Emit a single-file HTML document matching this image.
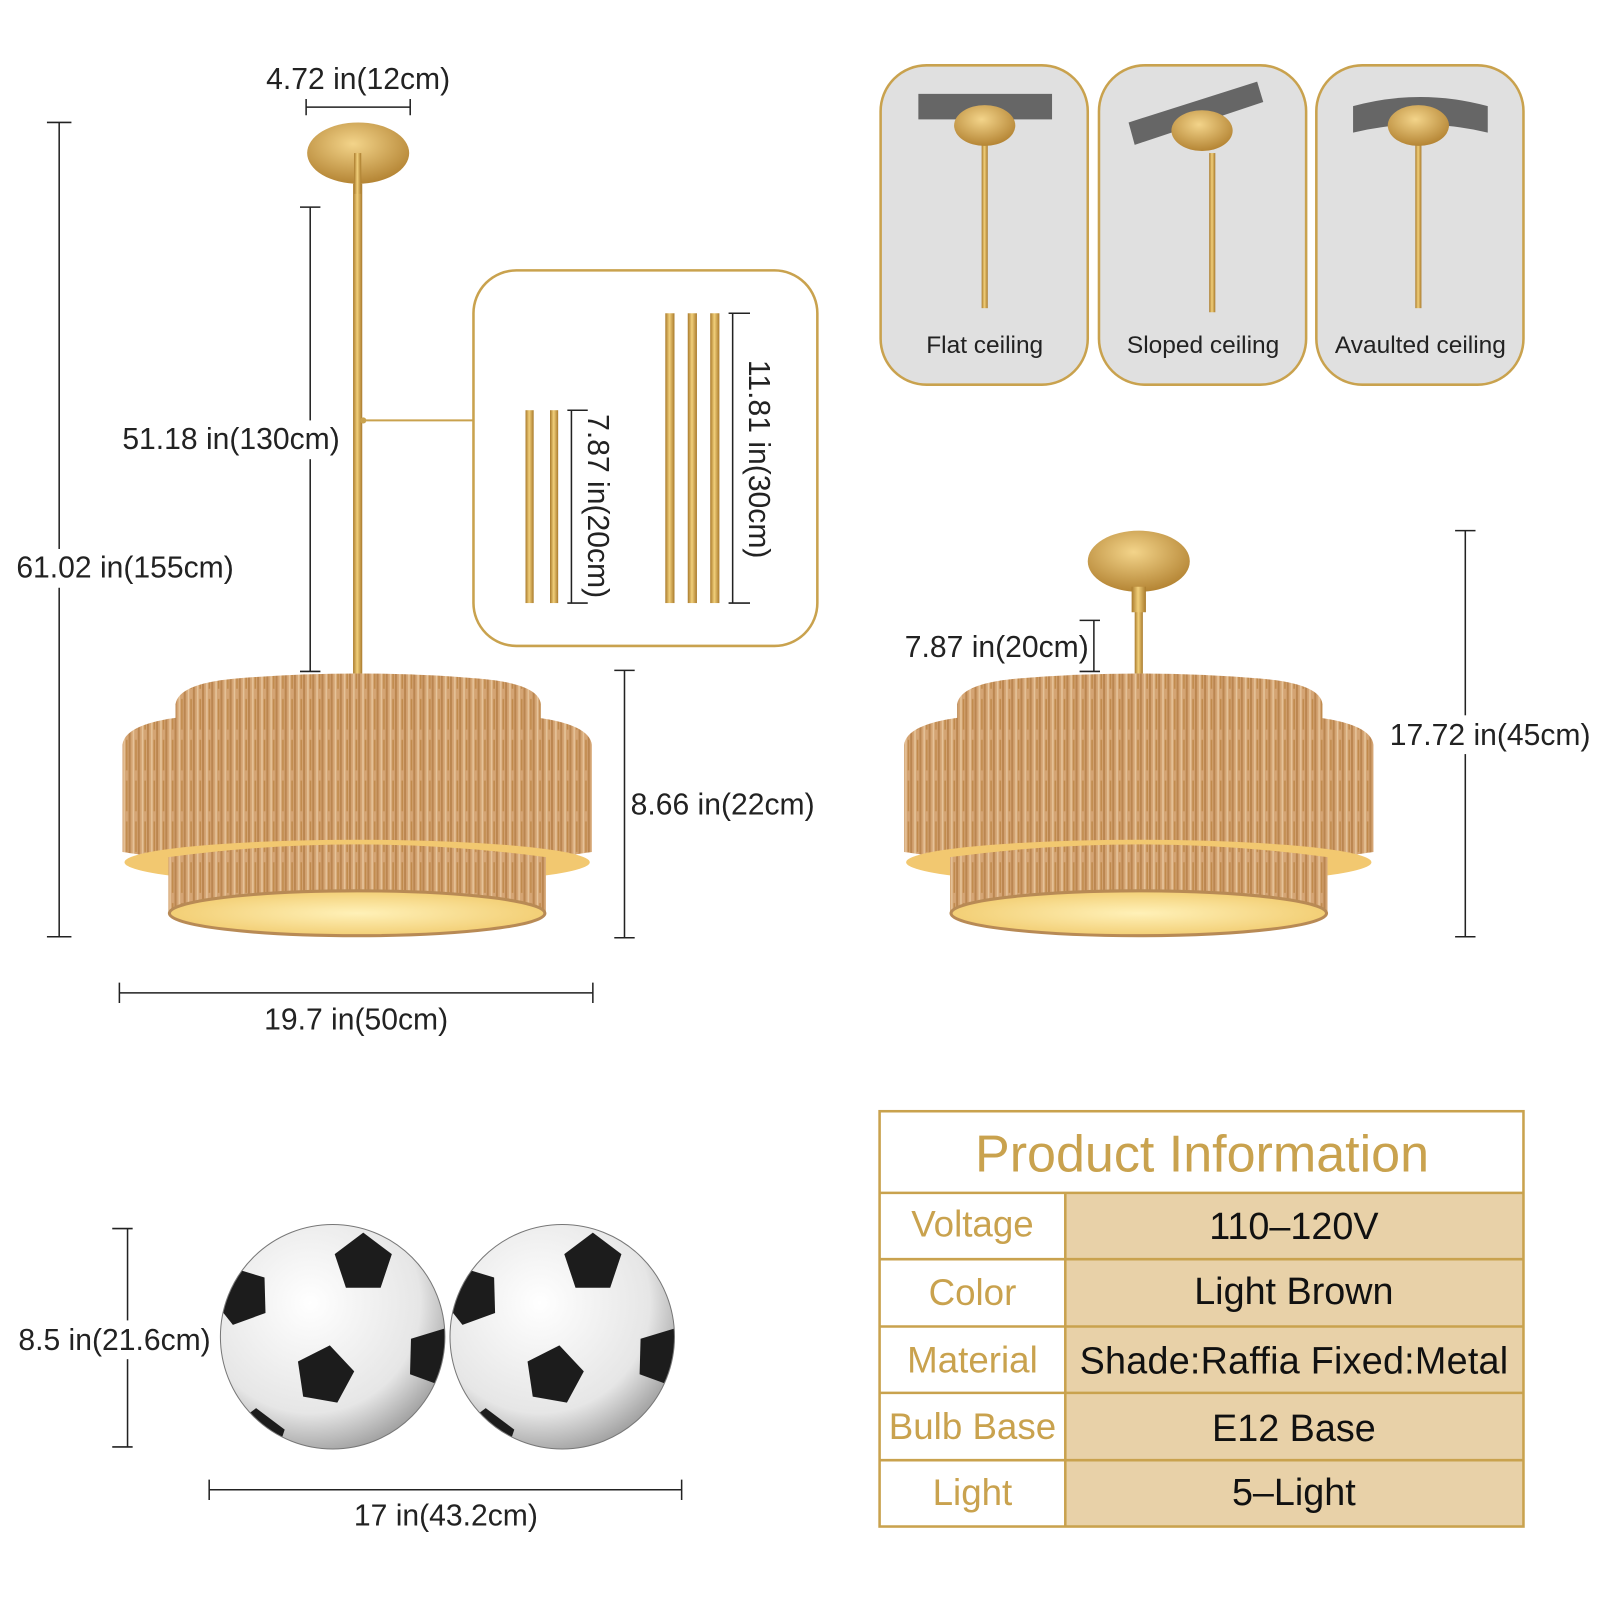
<!DOCTYPE html>
<html><head><meta charset="utf-8"><style>
html,body{margin:0;padding:0;background:#fff}
svg{display:block}
text{font-family:"Liberation Sans","DejaVu Sans",sans-serif}
</style></head><body>
<svg width="1600" height="1600" viewBox="0 0 1568 1568" xmlns="http://www.w3.org/2000/svg">
<defs>
<linearGradient id="gold" x1="0" x2="1"><stop offset="0" stop-color="#a97a2c"/><stop offset=".45" stop-color="#f1cf7a"/><stop offset="1" stop-color="#a97a2c"/></linearGradient>
<radialGradient id="can" cx=".45" cy=".35" r=".7"><stop offset="0" stop-color="#f3d48a"/><stop offset="1" stop-color="#b07f2e"/></radialGradient>
<pattern id="raf" width="9" height="40" patternUnits="userSpaceOnUse">
<rect width="9" height="40" fill="#d4a473"/>
<rect x="0" width="2" height="40" fill="#bb8650"/>
<rect x="4" width="1.5" height="40" fill="#e6c49a"/>
<rect x="6.5" y="5" width="1.5" height="30" fill="#c08a4c"/>
</pattern>
<radialGradient id="glow" cx=".5" cy=".5" r=".6"><stop offset="0" stop-color="#fff1b8"/><stop offset="1" stop-color="#f0c868"/></radialGradient>
<radialGradient id="ball" cx=".4" cy=".35" r=".7"><stop offset="0" stop-color="#ffffff"/><stop offset=".7" stop-color="#e6e6e6"/><stop offset="1" stop-color="#9a9a9a"/></radialGradient>
<g id="shade">
  <path d="M172 690 Q175 670 230 665 Q350 655 470 665 Q528 670 530 690 L530 720 L172 720Z" fill="url(#raf)"/>
  <path d="M120 730 Q122 710 175 703 Q350 690 525 703 Q578 710 580 730 L580 835 Q350 870 120 835Z" fill="url(#raf)"/>
  <ellipse cx="350" cy="845" rx="228" ry="22" fill="#f2c870"/>
  <path d="M165 840 Q350 815 535 840 L535 895 L165 895Z" fill="url(#raf)"/>
  <ellipse cx="350" cy="895" rx="184" ry="22" fill="url(#glow)" stroke="#b88a55" stroke-width="3"/>
</g>
<g id="pent"><polygon points="0,-30 28,-9 17,24 -17,24 -28,-9" fill="#1c1c1c"/></g>
<g id="soccer">
  <circle r="110" fill="url(#ball)"/>
  <clipPath id="bc"><circle r="110"/></clipPath>
  <g clip-path="url(#bc)">
   <use href="#pent" x="30" y="-72"/>
   <use href="#pent" x="-8" y="38" transform="rotate(10 -8 38)"/>
   <use href="#pent" x="-90" y="-40" transform="rotate(-20 -90 -40)"/>
   <use href="#pent" x="100" y="20" transform="rotate(20 100 20)"/>
   <use href="#pent" x="-75" y="100"/>
   <use href="#pent" x="80" y="110"/>
  </g>
  <circle r="110" fill="none" stroke="#777" stroke-width="1"/>
</g>
</defs>

<!-- Left lamp -->
<rect x="346" y="180" width="9" height="480" fill="url(#gold)"/>
<ellipse cx="351" cy="150" rx="50" ry="30" fill="url(#can)"/>
<rect x="347" y="150" width="7" height="40" fill="url(#gold)"/>
<use href="#shade"/>

<g stroke="#222" stroke-width="1.5" fill="none">
 <path d="M58 120V918M46 120H70M46 918H70"/>
 <path d="M304 203V658M294 203H314M294 658H314"/>
 <path d="M300 105H402M300 97V113M402 97V113"/>
 <path d="M612 657V919M602 657H622M602 919H622"/>
 <path d="M117 973H581M117 963V983M581 963V983"/>
</g>
<rect x="10" y="538" width="225" height="38" fill="#fff"/>
<rect x="120" y="412" width="220" height="38" fill="#fff"/>
<g font-size="29.5" fill="#222">
 <text x="16" y="566">61.02 in(155cm)</text>
 <text x="333" y="440" text-anchor="end">51.18 in(130cm)</text>
 <text x="351" y="87" text-anchor="middle">4.72 in(12cm)</text>
 <text x="618" y="798">8.66 in(22cm)</text>
 <text x="349" y="1009" text-anchor="middle">19.7 in(50cm)</text>
</g>

<!-- Inset -->
<line x1="356" y1="412" x2="464" y2="412" stroke="#c9a24e" stroke-width="2"/>
<circle cx="356" cy="412" r="3" fill="#c9a24e"/>
<rect x="464" y="265" width="337" height="368" rx="42" fill="#fff" stroke="#c9a24e" stroke-width="2.5"/>
<g fill="url(#gold)">
 <rect x="515" y="402" width="8" height="189"/><rect x="539" y="402" width="8" height="189"/>
 <rect x="652" y="307" width="9" height="284"/><rect x="674" y="307" width="9" height="284"/><rect x="696" y="307" width="9" height="284"/>
</g>
<g stroke="#222" stroke-width="1.5" fill="none">
 <path d="M560 402V591M556 402H576M556 591H576"/>
 <path d="M718 307V591M714 307H735M714 591H735"/>
</g>
<g font-size="29.5" fill="#222">
 <text transform="translate(576,496) rotate(90)" text-anchor="middle">7.87 in(20cm)</text>
 <text transform="translate(734,450) rotate(90)" text-anchor="middle">11.81 in(30cm)</text>
</g>

<!-- Ceiling cards -->
<g stroke="#c9a24e" stroke-width="2.5" fill="#e0e0e0">
 <rect x="863" y="64" width="203" height="313" rx="45"/>
 <rect x="1077" y="64" width="203" height="313" rx="45"/>
 <rect x="1290" y="64" width="203" height="313" rx="45"/>
</g>
<rect x="900" y="92" width="131" height="25" fill="#666"/>
<path d="M1106 120 L1232 80 L1238 100 L1112 142Z" fill="#666"/>
<path d="M1326 104 Q1392 86 1458 104 L1458 130 Q1392 114 1326 130Z" fill="#666"/>
<g fill="url(#gold)">
 <rect x="962" y="140" width="6" height="162"/>
 <rect x="1185" y="150" width="6" height="156"/>
 <rect x="1387" y="140" width="6" height="162"/>
</g>
<ellipse cx="965" cy="123" rx="30" ry="20" fill="url(#can)"/>
<ellipse cx="1178" cy="128" rx="30" ry="20" fill="url(#can)"/>
<ellipse cx="1390" cy="123" rx="30" ry="20" fill="url(#can)"/>
<g font-size="24" fill="#222" text-anchor="middle">
 <text x="965" y="346">Flat ceiling</text>
 <text x="1179" y="346">Sloped ceiling</text>
 <text x="1392" y="346">Avaulted ceiling</text>
</g>

<!-- Right lamp -->
<rect x="1112" y="590" width="8" height="70" fill="url(#gold)"/>
<ellipse cx="1116" cy="550" rx="50" ry="30" fill="url(#can)"/>
<rect x="1109" y="575" width="14" height="25" fill="url(#gold)"/>
<use href="#shade" x="766"/>
<g stroke="#222" stroke-width="1.5" fill="none">
 <path d="M1072 608V658M1058 608H1078M1058 658H1078"/>
 <path d="M1436 520V918M1426 520H1446M1426 918H1446"/>
</g>
<rect x="1356" y="701" width="210" height="38" fill="#fff"/>
<g font-size="29.5" fill="#222">
 <text x="1067" y="644" text-anchor="end">7.87 in(20cm)</text>
 <text x="1362" y="730">17.72 in(45cm)</text>
</g>

<!-- Balls -->
<use href="#soccer" x="326" y="1310"/>
<use href="#soccer" x="551" y="1310"/>
<g stroke="#222" stroke-width="1.5" fill="none">
 <path d="M125 1204V1418M110 1204H130M110 1418H130"/>
 <path d="M205 1460H668M205 1450V1470M668 1450V1470"/>
</g>
<rect x="14" y="1294" width="198" height="38" fill="#fff"/>
<g font-size="29.5" fill="#222">
 <text x="18" y="1323">8.5 in(21.6cm)</text>
 <text x="437" y="1495" text-anchor="middle">17 in(43.2cm)</text>
</g>

<!-- Table -->
<rect x="1044" y="1169" width="449" height="327" fill="#e8d1a8"/>
<g stroke="#c9a24e" stroke-width="2.5" fill="none">
 <rect x="862" y="1089" width="631" height="407"/>
 <path d="M862 1169H1493M862 1234H1493M862 1300H1493M862 1365H1493M862 1431H1493M1044 1169V1496"/>
</g>
<text x="1178" y="1148" font-size="51" fill="#c9a24e" text-anchor="middle">Product Information</text>
<g font-size="36" fill="#c9a24e" text-anchor="middle">
 <text x="953" y="1212">Voltage</text>
 <text x="953" y="1279">Color</text>
 <text x="953" y="1345">Material</text>
 <text x="953" y="1410">Bulb Base</text>
 <text x="953" y="1475">Light</text>
</g>
<g font-size="37" fill="#111" text-anchor="middle">
 <text x="1268" y="1214">110–120V</text>
 <text x="1268" y="1278">Light Brown</text>
 <text x="1268" y="1346" textLength="420">Shade:Raffia   Fixed:Metal</text>
 <text x="1268" y="1412">E12 Base</text>
 <text x="1268" y="1475">5–Light</text>
</g>
</svg>
</body></html>
